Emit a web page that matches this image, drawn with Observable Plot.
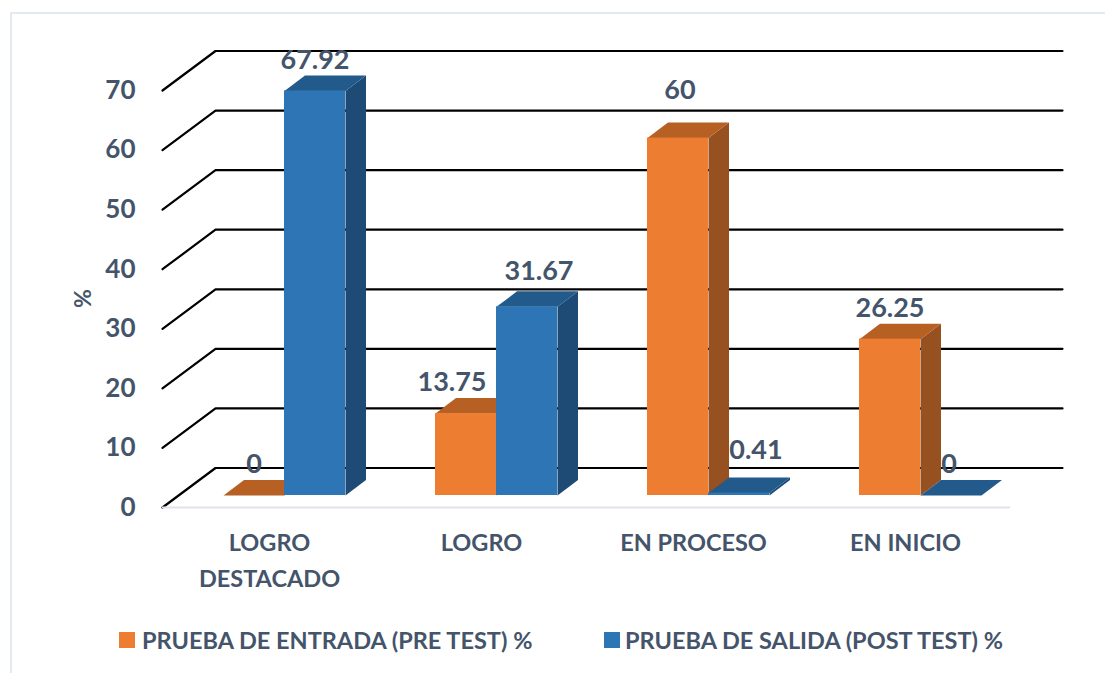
<!DOCTYPE html>
<html>
<head>
<meta charset="utf-8">
<script src="https://cdn.jsdelivr.net/npm/d3@7"></script>
<script src="https://cdn.jsdelivr.net/npm/@observablehq/plot@0.6"></script>
<style>
  html, body { margin: 0; padding: 0; background: #fff; }
  body { position: relative; width: 1105px; height: 673px; overflow: hidden; font-family: Lato, sans-serif; }
  #frame { position: absolute; left: 10px; top: 12px; right: -4px; bottom: -4px; border: 2px solid #e3e8f1; pointer-events: none; }
  #chart svg { display: block; }
  #legend { position: relative; height: 63px; font: 700 23.5px Lato, sans-serif; color: #44546a; }
  #legend .swatch { position: absolute; top: 22px; width: 16px; height: 16px; }
  #legend .name { position: absolute; top: 15px; line-height: 30px; white-space: nowrap; }
</style>
</head>
<body>
<div id="frame"></div>
<div id="chart"></div>
<div id="legend">
  <span class="swatch" style="left:119px;background:#ed7d31"></span>
  <span class="name" style="left:142px">PRUEBA DE ENTRADA (PRE TEST) %</span>
  <span class="swatch" style="left:604px;background:#2e75b6"></span>
  <span class="name" style="left:625px">PRUEBA DE SALIDA (POST TEST) %</span>
</div>
<script>
const categories = ["LOGRO\nDESTACADO", "LOGRO", "EN PROCESO", "EN INICIO"];
const preTest = [0, 13.75, 60, 26.25];
const postTest = [67.92, 31.67, 0.41, 0];
const yTicks = [0, 10, 20, 30, 40, 50, 60, 70];
const preLabels = ["0", "13.75", "60", "26.25"];
const postLabels = ["67.92", "31.67", "0.41", "0"];

// Layout of the oblique projection, in scale units
const pxX = 212, pxY = 417 / 70;
const barW = 61 / pxX, depthX = 20.5 / pxX, depthY = 15.5 / pxY, floorY = 12 / pxY;
const wallX = 53 / pxX, wallY = 39.5 / pxY;
const floorLeft = (162 - 284) / pxX, floorRight = (1010 - 284) / pxX, wallRight = (1062 - 284) / pxX;

const ink = "#44546a";
const preColors = {front: "#ed7d31", top: "#b66024", side: "#97501f"};
const postColors = {front: "#2e75b6", top: "#225a8c", side: "#1d4b76"};

const gridRows = yTicks.flatMap(v => [
  {id: v, x: floorLeft, y: v},
  {id: v, x: floorLeft + wallX, y: v + wallY},
  {id: v, x: wallRight, y: v + wallY}
]);

function barMarks(i, value, x0, colors) {
  const x1 = x0 + barW, b = floorY, t = floorY + value;
  const side = [[x1, b], [x1, t], [x1 + depthX, t + depthY], [x1 + depthX, b + depthY]];
  const top = [[x0, t], [x1, t], [x1 + depthX, t + depthY], [x0 + depthX, t + depthY]];
  const poly = (pts, fill) => Plot.line(pts, {x: d => d[0], y: d => d[1], fill, stroke: "none"});
  const marks = [poly(side, colors.side), poly(top, colors.top)];
  if (value > 0) marks.push(Plot.rect([0], {x1: () => x0, x2: () => x1, y1: () => b, y2: () => t, fill: colors.front}));
  return marks;
}

const bars = categories.flatMap((c, i) => [
  ...barMarks(i, preTest[i], i - barW, preColors),
  ...barMarks(i, postTest[i], i, postColors)
]);

// pixel nudges of the value labels from the bar's centre and top
const preNudge = [[0, -31], [-14, -31], [2, -48], [0, -31]];
const postNudge = [[0, -31], [12, -35], [17, -43], [-2, -31]];
const valueText = (label, value, xc, nudge) => Plot.text([label], {
  x: () => xc, y: () => floorY + value, text: d => d,
  dx: nudge[0], dy: nudge[1], fontSize: 27, fontWeight: 700, fill: ink
});
const valueLabels = categories.flatMap((c, i) => [
  valueText(preLabels[i], preTest[i], i - barW / 2, preNudge[i]),
  valueText(postLabels[i], postTest[i], i + barW / 2, postNudge[i])
]);

const H = 610;
const plot = Plot.plot({
  width: 1105, height: H,
  marginLeft: 138, marginRight: 0, marginTop: 0, marginBottom: 0,
  style: {background: "transparent", overflow: "visible", fontFamily: "Lato, sans-serif"},
  x: {domain: [(138 - 284) / pxX, (1105 - 284) / pxX], axis: null},
  y: {domain: [-(H - 507) / pxY, 507 / pxY], axis: null},
  color: {type: "identity"},
  marks: [
    Plot.line(gridRows, {x: "x", y: "y", z: "id", stroke: "#000", strokeWidth: 2.2}),
    Plot.ruleY([0], {x1: floorLeft, x2: floorRight, stroke: "#e2e3ea", strokeWidth: 2}),
    Plot.axisY({ticks: yTicks, tickSize: 0, tickPadding: 3, label: null, fontSize: 26, fontWeight: 700, fill: ink}),
    Plot.text(["%"], {x: () => (83 - 284) / pxX, y: () => (507 - 298) / pxY, text: d => d, rotate: -90, fontSize: 23, fontWeight: 700, fill: ink}),
    ...bars,
    ...valueLabels,
    Plot.text(categories, {
      x: (d, i) => i - 15 / pxX, y: () => 0, text: d => d, dy: 18,
      lineAnchor: "top", lineHeight: 36 / 23.5, fontSize: 23.5, fontWeight: 700, fill: ink
    })
  ]
});
document.getElementById("chart").appendChild(plot);
</script>
</body>
</html>
